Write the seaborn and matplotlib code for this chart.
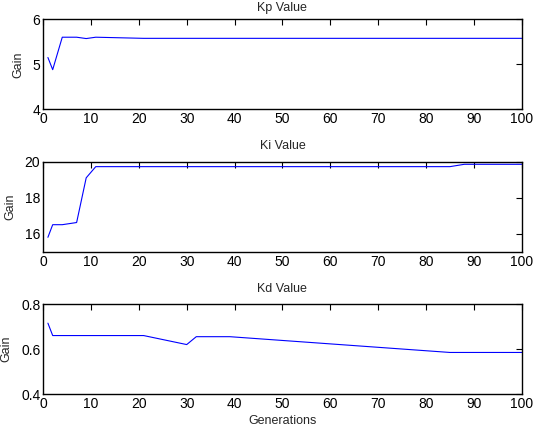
import pandas as pd
import matplotlib
matplotlib.use('Agg')
import matplotlib.pyplot as plt
import seaborn as sns

# Best gains per generation
kp_gen = [1, 2, 4, 7, 9, 11, 21, 100]
kp_val = [5.15, 4.88, 5.60, 5.60, 5.57, 5.60, 5.575, 5.575]

ki_gen = [1, 2, 4, 7, 9, 11, 85, 88, 100]
ki_val = [15.8, 16.5, 16.5, 16.62, 19.1, 19.72, 19.72, 19.85, 19.85]

kd_gen = [1, 2, 21, 30, 32, 39, 85, 100]
kd_val = [0.715, 0.66, 0.66, 0.62, 0.655, 0.655, 0.585, 0.585]

titles = ['Kp Value', 'Ki Value', 'Kd Value']
ylims = [(4, 6), (15, 20), (0.4, 0.8)]
yticks = [[4, 5, 6], [16, 18, 20], [0.4, 0.6, 0.8]]
xticks = list(range(0, 101, 10))

sns.set_style('white')
plt.rcParams['font.family'] = ['Liberation Sans', 'DejaVu Sans']

fig, axes = plt.subplots(3, 1, figsize=(5.39, 4.36), dpi=100)
fig.subplots_adjust(left=0.08, right=0.968, top=0.956, bottom=0.096, hspace=0.58)

series = [(kp_gen, kp_val), (ki_gen, ki_val), (kd_gen, kd_val)]
for i, (ax, (gen, val), title, yl, yt) in enumerate(zip(axes, series, titles, ylims, yticks)):
    df = pd.DataFrame({'Generation': gen, 'Gain': val})
    sns.lineplot(data=df, x='Generation', y='Gain', ax=ax, color='#0000ff', linewidth=0.8)
    ax.set_xlim(0, 100)
    ax.set_ylim(*yl)
    ax.set_xticks(xticks)
    ax.set_yticks(yt)
    ax.set_yticklabels([str(t) for t in yt])
    # top title would run off the figure edge with the full gap
    ax.set_title(title, fontsize=9, pad=6 if i == 0 else 9)
    ax.set_ylabel('Gain', fontsize=9, labelpad=6)
    ax.set_xlabel('')
    ax.tick_params(direction='in', top=True, right=True, length=4, width=0.8,
                   labelsize=10, pad=2, colors='black')
    for sp in ax.spines.values():
        sp.set_color('black')
        sp.set_linewidth(1.0)

axes[2].set_xlabel('Generations', fontsize=9, labelpad=3)

fig.savefig('out.png', dpi=100)
